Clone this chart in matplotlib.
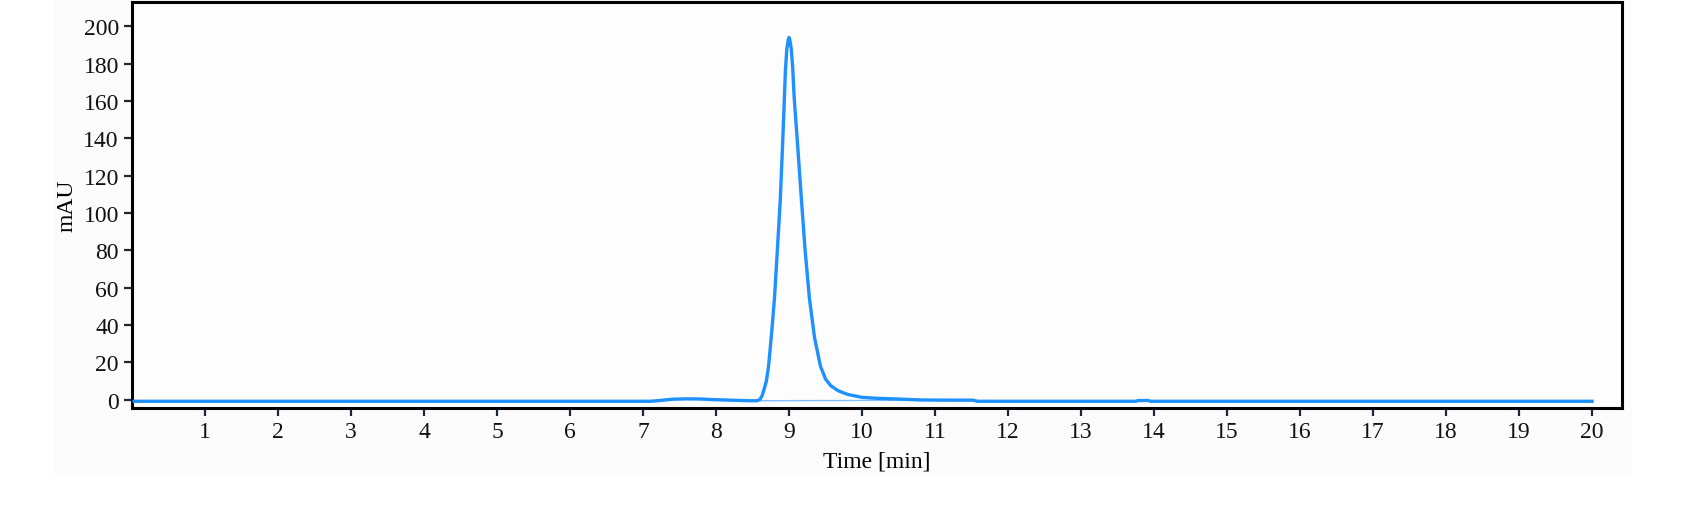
import matplotlib
matplotlib.use("Agg")
import matplotlib.pyplot as plt
from matplotlib.patches import Rectangle

# =========================
# DATA
# =========================
time_min = [0.03, 7.10, 7.25, 7.40, 7.60, 7.80, 7.95, 8.20, 8.45, 8.56,
            8.60, 8.63, 8.66, 8.69, 8.72, 8.76, 8.80, 8.84, 8.88, 8.91,
            8.93, 8.95, 8.97, 8.99, 9.00, 9.01, 9.03, 9.05, 9.07, 9.12,
            9.17, 9.22, 9.28, 9.35, 9.43, 9.50, 9.57, 9.67, 9.80, 10.00,
            10.20, 10.50, 10.80, 11.20, 11.52, 11.58, 13.75, 13.78, 13.92,
            13.95, 20.00]
signal_mau = [-0.9, -0.9, -0.4, 0.2, 0.4, 0.3, 0.0, -0.3, -0.6, -0.6,
              0.0, 2.0, 5.7, 10.0, 18.0, 35.0, 54.0, 80.0, 107.0, 135.0,
              155.0, 176.0, 188.0, 193.0, 194.0, 193.0, 188.0, 178.0, 162.0, 135.0,
              107.0, 80.0, 54.0, 33.0, 18.0, 11.0, 7.5, 4.8, 2.8, 1.2,
              0.7, 0.3, -0.2, -0.3, -0.3, -0.9, -0.9, -0.5, -0.5,
              -0.9, -0.9]

# integration baseline under the main peak
base_t = [8.60, 11.55]
base_v = [-0.6, -0.3]

x_ticks = list(range(1, 21))
y_ticks = list(range(0, 201, 20))

LINE_COLOR = "#1E90FF"
TICK_COLOR = "#1b2838"

plt.rcParams["font.family"] = ["Liberation Serif", "DejaVu Serif"]

W, H, DPI = 1697, 506, 100
fig = plt.figure(figsize=(W / DPI, H / DPI), dpi=DPI, facecolor="white")

# light panel behind the plot
fig.patches.append(Rectangle((53 / W, 1 - 477 / H), (1632 - 53) / W, 477 / H,
                             transform=fig.transFigure, facecolor="#fcfcfc",
                             edgecolor="none", zorder=-10))

ax = fig.add_axes([132 / W, 1 - 409 / H, (1622 - 132) / W, (409 - 3) / H])
ax.set_facecolor("#fdfdfd")

ax.plot(base_t, base_v, color="#7fbfff", linewidth=1.0, zorder=2)
ax.plot(time_min, signal_mau, color=LINE_COLOR, linewidth=2.4,
        solid_joinstyle="round", zorder=3)

ax.set_xlim(0.0, 20.41)
ax.set_ylim(-4.5, 213)
ax.set_xticks(x_ticks)
ax.set_yticks(y_ticks)

for side in ax.spines.values():
    side.set_linewidth(2.2)
    side.set_color("black")

ax.tick_params(axis="both", direction="out", length=5.5, width=1.6,
               color=TICK_COLOR, labelsize=17, labelcolor="#111111", pad=4)

ax.set_xlabel("Time [min]", fontsize=17, labelpad=6)
ax.set_ylabel("mAU", fontsize=17, labelpad=4)

fig.savefig("out.png", dpi=DPI, facecolor="white")
